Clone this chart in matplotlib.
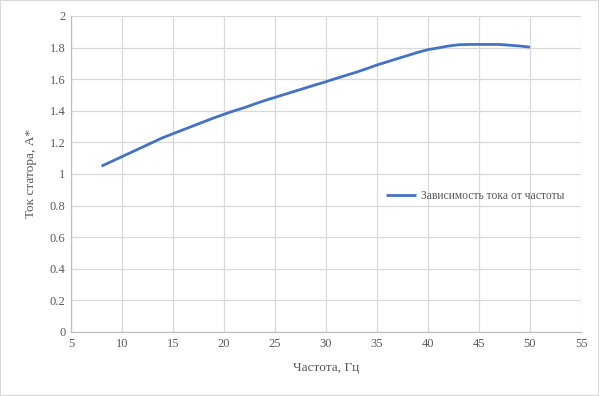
import numpy as np
from matplotlib import pyplot as plt
from matplotlib.patches import Rectangle

plt.rcParams['font.family'] = ['Liberation Serif', 'DejaVu Serif']

freq = list(range(8, 51))
current = [1.05, 1.08, 1.11, 1.14, 1.17, 1.20, 1.23, 1.255, 1.28, 1.305,
           1.33, 1.355, 1.378, 1.40, 1.42, 1.443, 1.465, 1.485, 1.505, 1.525,
           1.545, 1.565, 1.584, 1.605, 1.625, 1.645, 1.667, 1.69, 1.71, 1.73,
           1.75, 1.77, 1.787, 1.798, 1.81, 1.818, 1.82, 1.82, 1.82, 1.82,
           1.815, 1.81, 1.803]
x_ticks = np.arange(5, 56, 5)
y_ticks = np.round(np.arange(0, 2.01, 0.2), 1)
y_labels = ['0', '0.2', '0.4', '0.6', '0.8', '1', '1.2', '1.4', '1.6', '1.8', '2']

txt = '#595959'
grid = '#d9d9d9'

fig = plt.figure(figsize=(5.99, 3.96), dpi=100)
ax = fig.add_axes([71 / 599, 1 - 332 / 396, 510 / 599, 316 / 396])

ax.plot(freq, current, color='#4472C4', lw=2.0, solid_capstyle='butt',
        label='Зависимость тока от частоты')

ax.set_xlim(5, 55)
ax.set_ylim(0, 2)
ax.set_xticks(x_ticks)
ax.set_yticks(y_ticks)
ax.set_yticklabels(y_labels)
ax.grid(True, color=grid, lw=0.9)
ax.set_axisbelow(True)
ax.tick_params(length=0, labelsize=9, colors=txt, pad=4)
for s in ['top', 'right']:
    ax.spines[s].set_visible(False)
for s in ['left', 'bottom']:
    ax.spines[s].set_color('#bfbfbf')
    ax.spines[s].set_linewidth(0.9)

ax.set_xlabel('Частота, Гц', fontsize=9.5, color=txt, labelpad=9)
ax.set_ylabel('Ток статора, А*', fontsize=9.5, color=txt, labelpad=9)

leg = ax.legend(loc='center left', bbox_to_anchor=(0.597, 0.43), frameon=False,
                fontsize=8.4, handlelength=2.6, handletextpad=0.4, labelcolor=txt)

fig.patches.append(Rectangle((0, 0), 1, 1, transform=fig.transFigure, fill=False,
                             edgecolor=grid, lw=1.5))

fig.savefig('out.png', dpi=100)
